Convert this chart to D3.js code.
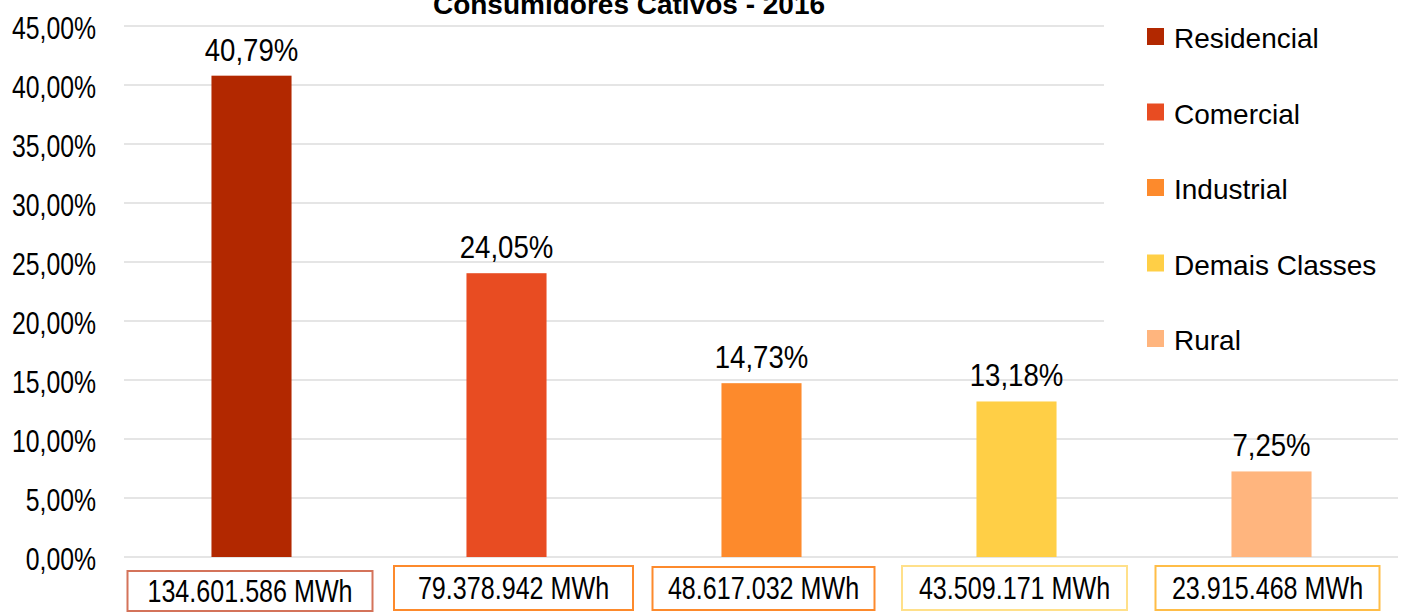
<!DOCTYPE html>
<html>
<head>
<meta charset="utf-8">
<script src="https://cdn.jsdelivr.net/npm/d3@7"></script>
<style>
  html, body { margin: 0; padding: 0; background: #ffffff; }
  svg { display: block; }
  text { font-family: "Liberation Sans", Arial, sans-serif; fill: #000; }
</style>
</head>
<body>
<svg id="chart" width="1403" height="612"></svg>
<script>
// ---- data ----
const categories = ["Residencial", "Comercial", "Industrial", "Demais Classes", "Rural"];
const shares = [40.79, 24.05, 14.73, 13.18, 7.25];           // % of captive consumption
const energyMWh = [134601586, 79378942, 48617032, 43509171, 23915468];
const yTicks = [0, 5, 10, 15, 20, 25, 30, 35, 40, 45];
const title = "Consumidores Cativos - 2016";

// ---- styles ----
const barColors = ["#b22800", "#e84c22", "#fd8a2c", "#ffcf46", "#ffb57e"];
const boxColors = ["#d4735a", "#fd8a2c", "#fd8a2c", "#ffe08a", "#ffbd47"];
const gridColor = "#dcdcdc";

// ---- locale ----
const ptBR = d3.formatLocale({decimal: ",", thousands: ".", grouping: [3], currency: ["R$", ""]});
const fmtPct = ptBR.format(".2f");
const fmtMWh = ptBR.format(",d");

const svg = d3.select("#chart");

// ---- scales ----
const x = d3.scaleBand().domain(categories).range([124, 1399]).paddingInner(0.686).paddingOuter(0.343);
const y = d3.scaleLinear().domain([0, 45]).range([557, 26]);

// ---- gridlines ----
svg.append("g").selectAll("line").data(yTicks).join("line")
  .attr("x1", 124).attr("x2", 1398)
  .attr("y1", d => y(d)).attr("y2", d => y(d))
  .attr("stroke", gridColor).attr("stroke-width", 1.4);

// ---- y axis labels ----
const yAxis = d3.axisLeft(y).tickValues(yTicks).tickSize(0).tickPadding(0)
  .tickFormat(d => fmtPct(d) + "%");
const gy = svg.append("g").attr("transform", "translate(96,0)").call(yAxis);
gy.select(".domain").remove();
gy.selectAll(".tick text")
  .attr("x", 0).attr("dy", null).attr("y", 0)
  .attr("fill", "#000")
  .style("font-size", "32px")
  .attr("transform", "translate(0,12) scale(0.775,1)");

// ---- bars ----
svg.append("g").selectAll("rect").data(categories).join("rect")
  .attr("x", d => x(d)).attr("width", x.bandwidth())
  .attr("y", (d, i) => y(shares[i]))
  .attr("height", (d, i) => y(0) - y(shares[i]))
  .attr("fill", (d, i) => barColors[i]);

// ---- value labels ----
svg.append("g").selectAll("text").data(categories).join("text")
  .attr("text-anchor", "middle")
  .style("font-size", "31px")
  .attr("transform", (d, i) => `translate(${x(d) + x.bandwidth() / 2},${y(shares[i]) - 15}) scale(0.89,1)`)
  .text((d, i) => fmtPct(shares[i]) + "%");

// ---- MWh boxes ----
const boxDx = [-1.5, 7, 2, -2, -4];
const boxW = [245, 239, 222, 225, 224];
const boxTop = [571, 566, 567, 566, 566];
const boxH = [40, 44, 43, 44, 44];
const boxes = svg.append("g").selectAll("g").data(categories).join("g")
  .attr("transform", (d, i) => `translate(${x(d) + x.bandwidth() / 2 + boxDx[i]},0)`);
boxes.append("rect")
  .attr("x", (d, i) => -boxW[i] / 2).attr("width", (d, i) => boxW[i])
  .attr("y", (d, i) => boxTop[i]).attr("height", (d, i) => boxH[i])
  .attr("fill", "#fff").attr("stroke", (d, i) => boxColors[i]).attr("stroke-width", 2);
boxes.append("text")
  .attr("text-anchor", "middle")
  .style("font-size", "32px")
  .attr("transform", (d, i) => `translate(0,${boxTop[i] + boxH[i] / 2 + 10.5}) scale(0.785,1)`)
  .text((d, i) => fmtMWh(energyMWh[i]) + " MWh");

// ---- legend (white backdrop covers gridlines) ----
const legend = svg.append("g");
legend.append("rect").attr("x", 1104).attr("y", 0).attr("width", 299).attr("height", 365).attr("fill", "#fff");
const items = legend.selectAll("g.item").data(categories).join("g")
  .attr("class", "item")
  .attr("transform", (d, i) => `translate(1147,${36.5 + i * 75.5})`);
items.append("rect").attr("x", 0).attr("y", -8.5).attr("width", 17).attr("height", 17)
  .attr("fill", (d, i) => barColors[i]);
items.append("text").attr("x", 27).attr("y", 11.5)
  .style("font-size", "28px").text(d => d);

// ---- title (cut at top edge, as in the reference) ----
svg.append("text").attr("x", 629).attr("y", 14).attr("text-anchor", "middle")
  .style("font-size", "28px").style("font-weight", "bold").text(title);
</script>
</body>
</html>
